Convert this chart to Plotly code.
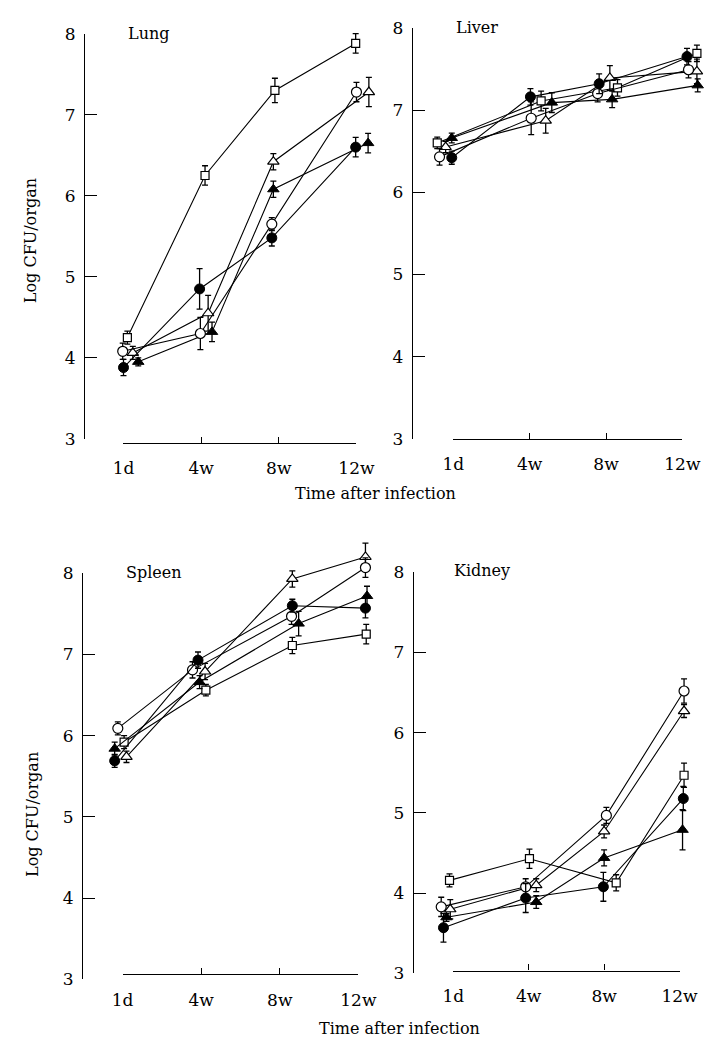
import plotly.graph_objects as go

W, H = 726, 1051
PAGE_OFFSET = 8  # the page body margin shifts the figure by 8 px right and down

TIMES = ["1d", "4w", "8w", "12w"]
Y_TICKS = [3, 4, 5, 6, 7, 8]

# ---- series values (log CFU/organ) and error bars ----
# Lung
LUNG_OPEN_CIRCLE = [4.08, 4.30, 5.65, 7.28]
LUNG_FILLED_CIRCLE = [3.88, 4.85, 5.48, 6.60]
LUNG_OPEN_SQUARE = [4.25, 6.25, 7.30, 7.88]
LUNG_OPEN_TRIANGLE = [4.06, 4.55, 6.42, 7.28]
LUNG_FILLED_TRIANGLE = [3.95, 4.32, 6.08, 6.65]
LUNG_OPEN_CIRCLE_ERR = [0.10, 0.20, 0.08, 0.12]
LUNG_FILLED_CIRCLE_ERR = [0.10, 0.25, 0.10, 0.12]
LUNG_OPEN_SQUARE_ERR = [0.08, 0.12, 0.15, 0.12]
LUNG_OPEN_TRIANGLE_ERR = [0.08, 0.22, 0.10, 0.18]
LUNG_FILLED_TRIANGLE_ERR = [0.05, 0.12, 0.10, 0.12]

# Liver
LIVER_OPEN_CIRCLE = [6.43, 6.90, 7.20, 7.49]
LIVER_FILLED_CIRCLE = [6.42, 7.16, 7.32, 7.65]
LIVER_OPEN_SQUARE = [6.60, 7.11, 7.27, 7.69]
LIVER_OPEN_TRIANGLE = [6.55, 6.87, 7.39, 7.47]
LIVER_FILLED_TRIANGLE = [6.66, 7.09, 7.13, 7.30]
LIVER_OPEN_CIRCLE_ERR = [0.10, 0.20, 0.10, 0.10]
LIVER_FILLED_CIRCLE_ERR = [0.08, 0.10, 0.12, 0.10]
LIVER_OPEN_SQUARE_ERR = [0.07, 0.12, 0.10, 0.10]
LIVER_OPEN_TRIANGLE_ERR = [0.07, 0.15, 0.15, 0.15]
LIVER_FILLED_TRIANGLE_ERR = [0.06, 0.12, 0.10, 0.08]

# Spleen
SPLEEN_OPEN_CIRCLE = [6.09, 6.81, 7.47, 8.07]
SPLEEN_FILLED_CIRCLE = [5.69, 6.93, 7.60, 7.57]
SPLEEN_OPEN_SQUARE = [5.92, 6.56, 7.11, 7.25]
SPLEEN_OPEN_TRIANGLE = [5.74, 6.79, 7.93, 8.20]
SPLEEN_FILLED_TRIANGLE = [5.84, 6.66, 7.38, 7.72]
SPLEEN_OPEN_CIRCLE_ERR = [0.08, 0.10, 0.10, 0.12]
SPLEEN_FILLED_CIRCLE_ERR = [0.08, 0.10, 0.08, 0.12]
SPLEEN_OPEN_SQUARE_ERR = [0.08, 0.07, 0.10, 0.12]
SPLEEN_OPEN_TRIANGLE_ERR = [0.07, 0.10, 0.10, 0.17]
SPLEEN_FILLED_TRIANGLE_ERR = [0.08, 0.08, 0.15, 0.12]

# Kidney
KIDNEY_OPEN_CIRCLE = [3.83, 4.08, 4.97, 6.52]
KIDNEY_FILLED_CIRCLE = [3.57, 3.94, 4.08, 5.18]
KIDNEY_OPEN_SQUARE = [4.16, 4.43, 4.13, 5.47]
KIDNEY_OPEN_TRIANGLE = [3.80, 4.10, 4.77, 6.27]
KIDNEY_FILLED_TRIANGLE = [3.70, 3.89, 4.44, 4.79]
KIDNEY_OPEN_CIRCLE_ERR = [0.12, 0.10, 0.10, 0.15]
KIDNEY_FILLED_CIRCLE_ERR = [0.18, 0.18, 0.18, 0.15]
KIDNEY_OPEN_SQUARE_ERR = [0.08, 0.12, 0.10, 0.15]
KIDNEY_OPEN_TRIANGLE_ERR = [0.12, 0.08, 0.08, 0.08]
KIDNEY_FILLED_TRIANGLE_ERR = [0.05, 0.08, 0.10, 0.25]

# ---- styling ----
SERIF = "DejaVu Serif"
MARKERS = {
    "oc": dict(symbol="circle", size=10, color="white", line=dict(color="black", width=1.2)),
    "fc": dict(symbol="circle", size=10, color="black", line=dict(color="black", width=1)),
    "os": dict(symbol="square", size=8, color="white", line=dict(color="black", width=1.2)),
    "ot": dict(symbol="triangle-up", size=10, color="white", line=dict(color="black", width=1.2)),
    "ft": dict(symbol="triangle-up", size=10, color="black", line=dict(color="black", width=1)),
}

# horizontal dodge of each series around the time tick (category units)
DODGE = {
    "Lung": {"oc": [-0.01, -0.01, -0.09, 0.0], "fc": [0.0, -0.02, -0.09, -0.01],
             "os": [0.05, 0.05, -0.05, -0.01], "ot": [0.12, 0.09, -0.07, 0.16],
             "ft": [0.19, 0.14, -0.07, 0.15]},
    "Liver": {"oc": [-0.18, 0.02, -0.11, 0.08], "fc": [-0.02, 0.01, -0.09, 0.06],
              "os": [-0.21, 0.15, 0.15, 0.19], "ot": [-0.10, 0.21, 0.05, 0.19],
              "ft": [-0.02, 0.29, 0.08, 0.20]},
    "Spleen": {"oc": [-0.06, -0.11, 0.15, 0.09], "fc": [-0.10, -0.04, 0.16, 0.09],
               "os": [0.02, 0.06, 0.16, 0.10], "ot": [0.05, 0.05, 0.16, 0.09],
               "ft": [-0.10, -0.02, 0.24, 0.11]},
    "Kidney": {"oc": [-0.16, -0.04, 0.03, 0.06], "fc": [-0.13, -0.04, -0.01, 0.05],
               "os": [-0.05, 0.01, 0.16, 0.06], "ot": [-0.04, 0.10, 0.0, 0.06],
               "ft": [-0.09, 0.10, 0.0, 0.04]},
}

# panel placement, in screen pixels
PANELS = [
    dict(name="Lung",
         data={"oc": (LUNG_OPEN_CIRCLE, LUNG_OPEN_CIRCLE_ERR), "fc": (LUNG_FILLED_CIRCLE, LUNG_FILLED_CIRCLE_ERR),
               "os": (LUNG_OPEN_SQUARE, LUNG_OPEN_SQUARE_ERR), "ot": (LUNG_OPEN_TRIANGLE, LUNG_OPEN_TRIANGLE_ERR),
               "ft": (LUNG_FILLED_TRIANGLE, LUNG_FILLED_TRIANGLE_ERR)},
         yax_x=77, y8=24, y3=437, bx0=117, bx1=360, by=441, title_xy=(120, 24)),
    dict(name="Liver",
         data={"oc": (LIVER_OPEN_CIRCLE, LIVER_OPEN_CIRCLE_ERR), "fc": (LIVER_FILLED_CIRCLE, LIVER_FILLED_CIRCLE_ERR),
               "os": (LIVER_OPEN_SQUARE, LIVER_OPEN_SQUARE_ERR), "ot": (LIVER_OPEN_TRIANGLE, LIVER_OPEN_TRIANGLE_ERR),
               "ft": (LIVER_FILLED_TRIANGLE, LIVER_FILLED_TRIANGLE_ERR)},
         yax_x=419, y8=18, y3=437, bx0=461, bx1=700, by=437, title_xy=(462, 18)),
    dict(name="Spleen",
         data={"oc": (SPLEEN_OPEN_CIRCLE, SPLEEN_OPEN_CIRCLE_ERR), "fc": (SPLEEN_FILLED_CIRCLE, SPLEEN_FILLED_CIRCLE_ERR),
               "os": (SPLEEN_OPEN_SQUARE, SPLEEN_OPEN_SQUARE_ERR), "ot": (SPLEEN_OPEN_TRIANGLE, SPLEEN_OPEN_TRIANGLE_ERR),
               "ft": (SPLEEN_FILLED_TRIANGLE, SPLEEN_FILLED_TRIANGLE_ERR)},
         yax_x=75, y8=574, y3=988, bx0=116, bx1=362, by=983, title_xy=(118, 573)),
    dict(name="Kidney",
         data={"oc": (KIDNEY_OPEN_CIRCLE, KIDNEY_OPEN_CIRCLE_ERR), "fc": (KIDNEY_FILLED_CIRCLE, KIDNEY_FILLED_CIRCLE_ERR),
               "os": (KIDNEY_OPEN_SQUARE, KIDNEY_OPEN_SQUARE_ERR), "ot": (KIDNEY_OPEN_TRIANGLE, KIDNEY_OPEN_TRIANGLE_ERR),
               "ft": (KIDNEY_FILLED_TRIANGLE, KIDNEY_FILLED_TRIANGLE_ERR)},
         yax_x=420, y8=573, y3=982, bx0=461, bx1=697, by=979, title_xy=(460, 571)),
]

SERIES_ORDER = ["os", "ot", "ft", "oc", "fc"]
TICK_FONT = dict(family=SERIF, size=17, color="black")
TEXT_FONT = dict(family=SERIF, size=16, color="black")


def fx(px):
    return min(max((px - PAGE_OFFSET) / W, 0.0), 1.0)


def fy(py):
    return min(max(1 - (py - PAGE_OFFSET) / H, 0.0), 1.0)


def ax_key(kind, n):
    return f"{kind}axis" if n == 1 else f"{kind}axis{n}"


def ax_ref(kind, n):
    return kind if n == 1 else f"{kind}{n}"


fig = go.Figure()
layout_axes = {}
annotations = []

for i, p in enumerate(PANELS):
    nd, ny, nx = 3 * i + 1, 3 * i + 2, 3 * i + 3
    # data subplot (invisible axes, wider than the drawn axes so nothing is clipped)
    ux = (p["bx1"] - p["bx0"]) / 3.0
    uy = (p["y3"] - p["y8"]) / 5.0
    left_px = p["yax_x"] + 2
    right_px = min(p["bx1"] + 35, W + PAGE_OFFSET - 1)
    top_px = max(p["y8"] - 45, PAGE_OFFSET + 1)
    bot_px = p["y3"] + 5
    xr = [(left_px - p["bx0"]) / ux, (right_px - p["bx0"]) / ux]
    yr = [3 - (bot_px - p["y3"]) / uy, 8 + (p["y8"] - top_px) / uy]
    layout_axes[ax_key("x", nd)] = dict(domain=[fx(left_px), fx(right_px)], range=xr,
                                        visible=False, anchor=ax_ref("y", nd))
    layout_axes[ax_key("y", nd)] = dict(domain=[fy(bot_px), fy(top_px)], range=yr,
                                        visible=False, anchor=ax_ref("x", nd))
    for key in SERIES_ORDER:
        vals, errs = p["data"][key]
        xs = [t + d for t, d in zip(range(len(TIMES)), DODGE[p["name"]][key])]
        fig.add_trace(go.Scatter(
            x=xs, y=vals, mode="lines+markers",
            line=dict(color="black", width=1.1),
            marker=MARKERS[key],
            error_y=dict(type="data", array=errs, visible=True, color="black",
                         thickness=1.3, width=3),
            xaxis=ax_ref("x", nd), yaxis=ax_ref("y", nd),
            showlegend=False, hoverinfo="skip", cliponaxis=False))

    # drawn y axis (3..8)
    layout_axes[ax_key("x", ny)] = dict(domain=[fx(p["yax_x"]), fx(p["yax_x"] + 10)], range=[0, 1],
                                        visible=False, anchor=ax_ref("y", ny))
    layout_axes[ax_key("y", ny)] = dict(
        domain=[fy(p["y3"]), fy(p["y8"])], range=[3, 8], anchor=ax_ref("x", ny),
        tickvals=Y_TICKS, ticktext=[str(v) for v in Y_TICKS],
        showline=True, linecolor="black", linewidth=1.4, ticks="inside", ticklen=12,
        tickwidth=1.4, tickcolor="black", showgrid=False, zeroline=False,
        tickfont=TICK_FONT, ticklabelstandoff=5)
    fig.add_trace(go.Scatter(x=[None], y=[None], xaxis=ax_ref("x", ny), yaxis=ax_ref("y", ny),
                             showlegend=False, hoverinfo="skip"))

    # drawn time bracket (1d..12w)
    layout_axes[ax_key("x", nx)] = dict(
        domain=[fx(p["bx0"]), fx(p["bx1"])], range=[0, 3], anchor=ax_ref("y", nx),
        tickvals=list(range(len(TIMES))), ticktext=TIMES,
        showline=True, linecolor="black", linewidth=1.4, ticks="inside", ticklen=6,
        tickwidth=1.4, tickcolor="black", showgrid=False, zeroline=False,
        tickfont=TICK_FONT, ticklabelstandoff=10)
    layout_axes[ax_key("y", nx)] = dict(domain=[fy(p["by"]), fy(p["by"] - 10)], range=[0, 1],
                                        visible=False, anchor=ax_ref("x", nx))
    fig.add_trace(go.Scatter(x=[None], y=[None], xaxis=ax_ref("x", nx), yaxis=ax_ref("y", nx),
                             showlegend=False, hoverinfo="skip"))

    annotations.append(dict(text=p["name"], x=fx(p["title_xy"][0]), y=fy(p["title_xy"][1]),
                            xref="paper", yref="paper", xanchor="left", yanchor="middle",
                            showarrow=False, font=TEXT_FONT))

for txt, x, y, ang in [("Time after infection", 380, 493, 0),
                       ("Time after infection", 405, 1038, 0),
                       ("Log CFU/organ", 20, 235, -90),
                       ("Log CFU/organ", 22, 820, -90)]:
    annotations.append(dict(text=txt, x=fx(x), y=fy(y), xref="paper", yref="paper",
                            xanchor="center", yanchor="middle", textangle=ang, showarrow=False,
                            font=TEXT_FONT))

fig.update_layout(
    width=W, height=H, margin=dict(l=0, r=0, t=0, b=0),
    paper_bgcolor="white", plot_bgcolor="rgba(0,0,0,0)",
    showlegend=False, annotations=annotations, **layout_axes)

fig.write_html("out.html")
